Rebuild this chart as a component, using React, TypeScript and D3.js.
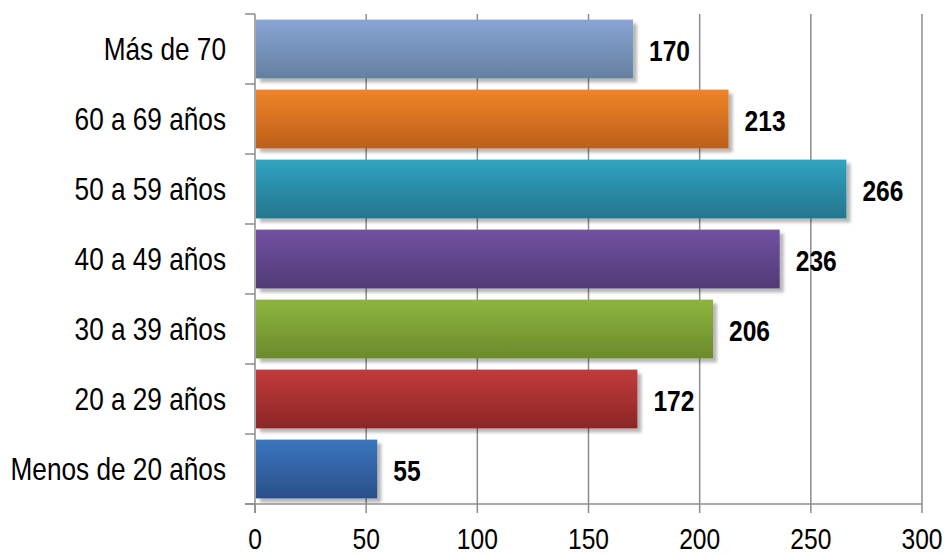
import React from "react";
import * as d3 from "d3";

const categories = [
  "Más de 70",
  "60 a 69 años",
  "50 a 59 años",
  "40 a 49 años",
  "30 a 39 años",
  "20 a 29 años",
  "Menos de 20 años",
];
const values = [170, 213, 266, 236, 206, 172, 55];
const topColors = ["#88A5D6", "#F08428", "#31A3C1", "#7251A2", "#8DB53D", "#C23B3B", "#3B76BE"];
const bottomColors = ["#64809F", "#BC5F1B", "#24768C", "#513A76", "#6B8A2D", "#8C2727", "#294F88"];
const xTicks = [0, 50, 100, 150, 200, 250, 300];

const W = 946;
const H = 555;
const FONT = "'Liberation Sans', Arial, sans-serif";
const NARROW = 0.82;
const NARROW_CAT = 0.845;

export default function App() {
  const x = d3.scaleLinear().domain([0, 300]).range([255, 922]);
  const y = d3
    .scaleBand<string>()
    .domain(categories)
    .range([14, 504])
    .paddingInner(0.16)
    .paddingOuter(0.08);
  const step = y.step();
  const grid = "#8c8c8c";

  return (
    <svg
      width={W}
      height={H}
      style={{ position: "absolute", left: 0, top: 0, background: "#fff" }}
      fontFamily={FONT}
    >
      <defs>
        {categories.map((c, i) => (
          <linearGradient key={c} id={`g${i}`} x1="0" y1="0" x2="0" y2="1">
            <stop offset="0%" stopColor={topColors[i]} />
            <stop offset="100%" stopColor={bottomColors[i]} />
          </linearGradient>
        ))}
        <filter id="sh" x="-5%" y="-20%" width="115%" height="150%">
          <feDropShadow dx="4" dy="4" stdDeviation="1.6" floodColor="#000" floodOpacity="0.28" />
        </filter>
      </defs>

      {/* gridlines */}
      {xTicks.slice(1).map((t) => (
        <line key={t} x1={x(t)} x2={x(t)} y1={14} y2={504} stroke={grid} strokeWidth={1.5} />
      ))}

      {/* bars */}
      {categories.map((c, i) => (
        <rect
          key={c}
          x={x(0) + 1}
          y={y(c)}
          width={x(values[i]) - x(0) - 1}
          height={y.bandwidth()}
          fill={`url(#g${i})`}
          filter="url(#sh)"
        />
      ))}

      {/* axes */}
      <line x1={x(0)} x2={x(0)} y1={14} y2={513} stroke={grid} strokeWidth={1.5} />
      <line x1={245} x2={x(300)} y1={504} y2={504} stroke={grid} strokeWidth={1.5} />
      {d3.range(categories.length + 1).map((k) => (
        <line key={k} x1={245} x2={x(0)} y1={14 + k * step} y2={14 + k * step} stroke={grid} strokeWidth={1.5} />
      ))}
      {xTicks.map((t) => (
        <line key={t} x1={x(t)} x2={x(t)} y1={504} y2={513} stroke={grid} strokeWidth={1.5} />
      ))}

      {/* tick labels */}
      {xTicks.map((t) => (
        <text
          key={t}
          transform={`translate(${x(t)},549) scale(${NARROW},1)`}
          textAnchor="middle"
          fontSize={30}
          fill="#000"
        >
          {t}
        </text>
      ))}
      {categories.map((c) => (
        <text
          key={c}
          transform={`translate(226,${(y(c) as number) + y.bandwidth() / 2}) scale(${NARROW_CAT},1)`}
          dy="0.35em"
          textAnchor="end"
          fontSize={31}
          fill="#000"
        >
          {c}
        </text>
      ))}

      {/* value labels */}
      {categories.map((c, i) => (
        <text
          key={c}
          transform={`translate(${x(values[i]) + 16},${(y(c) as number) + y.bandwidth() / 2 + 1}) scale(${NARROW},1)`}
          dy="0.35em"
          fontSize={30}
          fontWeight="bold"
          fill="#000"
        >
          {values[i]}
        </text>
      ))}
    </svg>
  );
}
